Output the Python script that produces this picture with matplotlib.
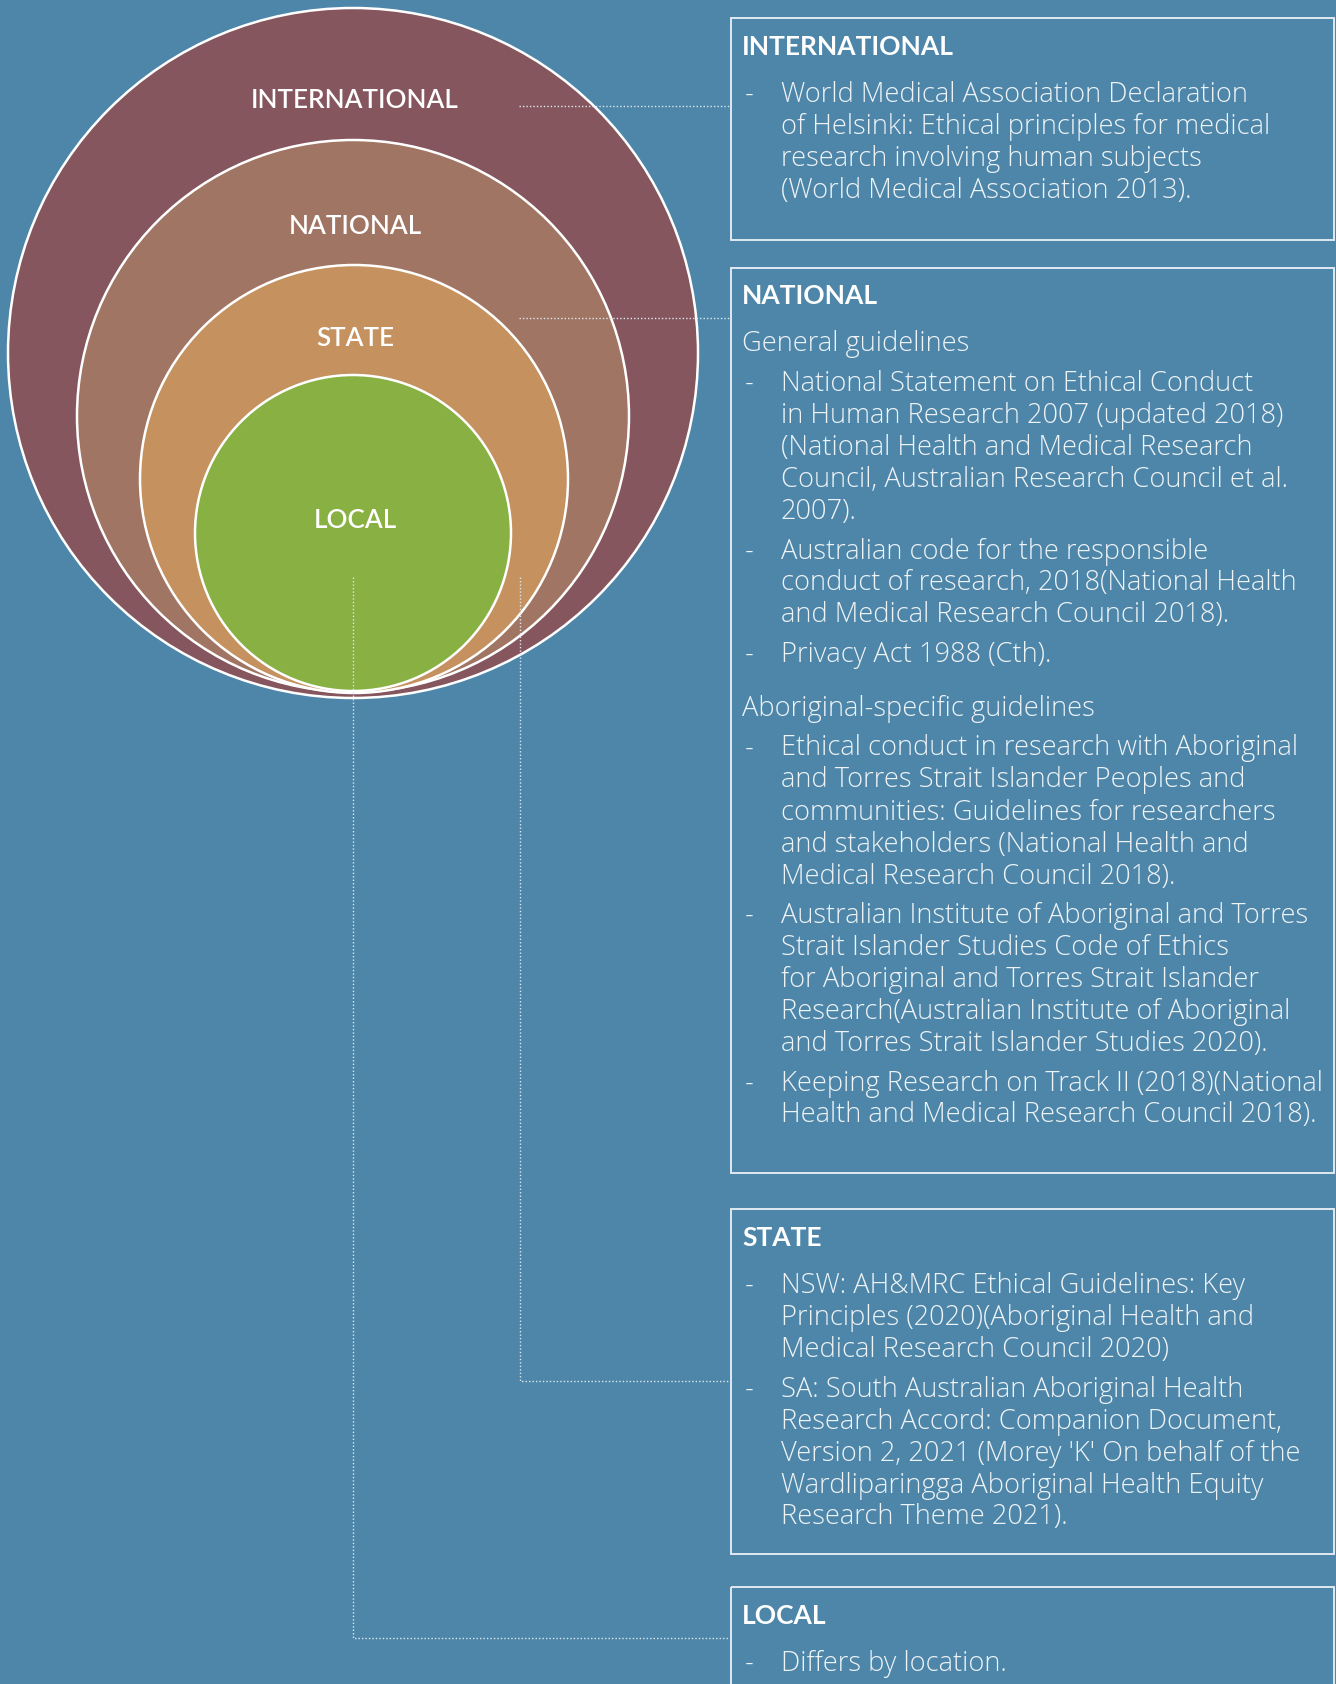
import matplotlib
matplotlib.use("Agg")
import matplotlib.pyplot as plt
from matplotlib.patches import Circle, Rectangle

# ---- content ----
levels = ["INTERNATIONAL", "NATIONAL", "STATE", "LOCAL"]
level_colors = ["#85565e", "#a07563", "#c4915f", "#88b042"]

intl_items = [
    ["World Medical Association Declaration",
     "of Helsinki: Ethical principles for medical",
     "research involving human subjects",
     "(World Medical Association 2013)."],
]
national_general = [
    ["National Statement on Ethical Conduct",
     "in Human Research 2007 (updated 2018)",
     "(National Health and Medical Research",
     "Council, Australian Research Council et al.",
     "2007)."],
    ["Australian code for the responsible",
     "conduct of research, 2018(National Health",
     "and Medical Research Council 2018)."],
    ["Privacy Act 1988 (Cth)."],
]
national_aboriginal = [
    ["Ethical conduct in research with Aboriginal",
     "and Torres Strait Islander Peoples and",
     "communities: Guidelines for researchers",
     "and stakeholders (National Health and",
     "Medical Research Council 2018)."],
    ["Australian Institute of Aboriginal and Torres",
     "Strait Islander Studies Code of Ethics",
     "for Aboriginal and Torres Strait Islander",
     "Research(Australian Institute of Aboriginal",
     "and Torres Strait Islander Studies 2020)."],
    ["Keeping Research on Track II (2018)(National",
     "Health and Medical Research Council 2018)."],
]
state_items = [
    ["NSW: AH&MRC Ethical Guidelines: Key",
     "Principles (2020)(Aboriginal Health and",
     "Medical Research Council 2020)"],
    ["SA: South Australian Aboriginal Health",
     "Research Accord: Companion Document,",
     "Version 2, 2021 (Morey 'K' On behalf of the",
     "Wardliparingga Aboriginal Health Equity",
     "Research Theme 2021)."],
]
local_items = [["Differs by location."]]

# ---- layout (pixels, y down) ----
W, H = 1336, 1684
bg = "#4d86a9"
txt = "#eef3f6"
circ_x = [353, 353, 354, 353]
circ_y = [353, 416, 479, 533]
circ_r = [345, 276, 214, 158]
label_y = [100, 227, 339, 521]

box_x0, box_x1 = 731, 1334
box_top = [18, 268, 1209, 1587]
box_bot = [240, 1173, 1554, 1700]

fam = ["Open Sans", "DejaVu Sans"]
hfam = ["Lato", "DejaVu Sans"]
fs = 19.6
line_h = 32
item_gap = 7.5

fig = plt.figure(figsize=(W / 100, H / 100), dpi=100)
fig.patch.set_facecolor(bg)
ax = fig.add_axes([0, 0, 1, 1])
ax.set_xlim(0, W)
ax.set_ylim(H, 0)
ax.set_aspect("equal")
ax.axis("off")

# nested circles
for x, y, r, c in zip(circ_x, circ_y, circ_r, level_colors):
    ax.add_patch(Circle((x, y), r, facecolor=c, edgecolor="white", lw=1.8))
for name, y in zip(levels, label_y):
    ax.text(355, y, name, ha="center", va="center",
            color="white", fontsize=18.7, family=hfam, fontweight="semibold")

# connectors
dot = dict(color="#dce8f0", lw=1, ls=(0, (1, 1.5)))
ax.plot([519, box_x0], [106, 106], **dot)
ax.plot([519, box_x0], [318, 318], **dot)
ax.plot([520, 520, box_x0], [577, 1381, 1381], **dot)
ax.plot([353, 353, box_x0], [577, 1638, 1638], **dot)

# boxes
for t, b in zip(box_top, box_bot):
    ax.add_patch(Rectangle((box_x0, t), box_x1 - box_x0, b - t,
                           facecolor="none", edgecolor="#dfe9f0", lw=1.4))


def heading(y, s):
    ax.text(742, y, s, ha="left", va="center", color="white",
            fontsize=19, family=hfam, fontweight="bold")


def sub(y, s):
    ax.text(742, y, s, ha="left", va="center", color=txt,
            fontsize=fs, family=fam, fontweight="light")


def items(y, lst):
    for it in lst:
        ax.text(745, y, "-", ha="left", va="center", color=txt,
                fontsize=fs, family=fam, fontweight="light")
        for ln in it:
            ax.text(781, y, ln, ha="left", va="center", color=txt,
                    fontsize=fs, family=fam, fontweight="light")
            y += line_h
        y += item_gap
    return y


heading(47, levels[0])
items(95, intl_items)

heading(296, levels[1])
sub(344, "General guidelines")
y = items(384, national_general)
sub(y + 14, "Aboriginal-specific guidelines")
items(y + 54, national_aboriginal)

heading(1238, levels[2])
items(1286, state_items)

heading(1616, levels[3])
items(1664, local_items)

fig.savefig("out.png", dpi=100, facecolor=bg)
